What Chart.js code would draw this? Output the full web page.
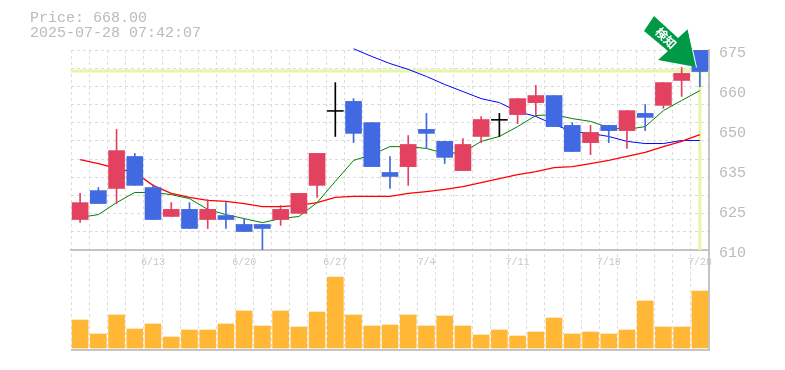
<!DOCTYPE html>
<html>
<head>
<meta charset="utf-8">
<style>
html, body { margin: 0; padding: 0; background: #fff; }
#wrap { position: relative; width: 785px; height: 370px; }
</style>
<script src="https://cdn.jsdelivr.net/npm/chart.js@4"></script>
</head>
<body>
<div id="wrap"><canvas id="stockChart" width="785" height="370"></canvas></div>
<script>
const dates = ['6/9','6/10','6/11','6/12','6/13','6/16','6/17','6/18','6/19','6/20','6/23','6/24','6/25','6/26','6/27','6/30','7/1','7/2','7/3','7/4','7/7','7/8','7/9','7/10','7/11','7/14','7/15','7/16','7/17','7/18','7/22','7/23','7/24','7/25','7/28'];
const tickDates = ['6/13','6/20','6/27','7/4','7/11','7/18','7/28'];

const opens  = [619.9,629.3,630.0,640.4,630.3,620.9,623.2,619.9,621.2,618.3,618.3,619.9,621.9,631.0,655.2,658.3,651.4,635.2,637.1,649.2,645.3,635.8,646.9,652.3,654.0,657.9,660.2,650.5,644.9,650.5,648.8,654.4,657.0,665.1,675.0];
const closes = [625.4,625.1,642.3,631.0,619.9,623.2,617.0,623.2,619.9,616.0,617.0,623.2,628.4,641.4,655.2,647.9,637.1,633.9,644.3,647.9,640.1,644.3,652.4,652.3,659.2,660.2,650.1,642.0,648.2,648.8,655.3,653.1,664.4,667.4,668.0];
const highs  = [628.4,630.3,649.2,641.4,631.3,625.4,625.4,626.4,625.4,620.2,618.3,624.5,628.4,641.4,664.4,659.2,651.4,640.4,647.2,654.4,645.3,646.2,653.4,654.4,659.2,663.5,660.2,651.4,650.5,650.5,655.3,657.3,664.4,669.3,675.0];
const lows   = [619.0,625.1,625.1,631.0,619.9,620.9,617.0,617.0,617.0,616.0,610.0,618.0,621.9,627.1,646.9,644.9,637.1,630.0,631.0,643.0,638.1,635.8,644.9,646.9,651.1,654.0,650.1,642.0,641.0,644.9,643.0,648.8,656.0,659.9,663.1];

const maShort  = [620.6,621.5,625.4,628.7,628.7,628.0,626.7,623.2,621.5,620.2,618.9,620.2,620.9,625.4,632.3,639.1,641.0,643.6,643.6,643.0,641.4,641.7,645.3,646.9,650.1,653.7,654.0,652.7,651.8,649.8,649.2,650.1,655.3,658.6,661.8];
const maMiddle = [639.4,638.1,636.5,635.2,631.0,628.4,627.1,626.1,625.8,625.1,624.1,624.1,624.5,625.4,627.1,627.4,627.4,627.4,628.4,629.0,629.7,630.6,631.9,633.2,634.5,635.5,636.8,637.1,638.1,639.1,640.4,641.7,643.6,645.3,647.5];
const maLong   = [null,null,null,null,null,null,null,null,null,null,null,null,null,null,null,675.4,672.9,670.6,668.7,666.4,663.8,661.5,659.2,657.9,655.0,653.4,650.8,648.5,647.9,646.9,645.3,644.6,644.6,645.6,645.6];

const volumes = [28,14,33,19,24,11,18,18,24,37,22,37,21,36,71,33,22,23,33,22,32,22,13,18,12,16,30,14,16,14,18,47,21,21,57];

const priceTicks = [675,662,649,636,623,610];
const priceTickLabels = ['675','660','650','635','625','610'];
const gridDivisions = 11;
const lastPrice = 668;
const priceText = 'Price: 668.00';
const timeText = '2025-07-28 07:42:07';
const badgeText = '検知';

const UP = '#e2415f', DOWN = '#4169e1', DOJI = '#000000';
const candleColors = opens.map((o, i) => closes[i] > o ? UP : closes[i] < o ? DOWN : DOJI);
const GRID = '#dcdcdc', FRAME = '#c4c4c4', MONO = '"Liberation Mono", monospace';

// 현재값 라인, 헤더, 화살표
const overlay = {
    id: 'overlay',
    beforeDatasetsDraw(chart) {
        const { ctx, chartArea, scales } = chart;
        const y = scales.y.getPixelForValue(lastPrice) - 0.5;
        const x = scales.x.getPixelForValue(dates.length - 1);
        ctx.save();
        ctx.strokeStyle = '#e5f6a8';
        ctx.lineWidth = 3;
        ctx.beginPath();
        ctx.moveTo(chartArea.left, y);
        ctx.lineTo(chartArea.right, y);
        ctx.moveTo(x, y);
        ctx.lineTo(x, scales.y.bottom);
        ctx.stroke();
        ctx.restore();
    },
    afterDraw(chart) {
        const { ctx } = chart;
        ctx.save();
        ctx.fillStyle = '#bbbbbb';
        ctx.font = '15px ' + MONO;
        ctx.textBaseline = 'middle';
        ctx.fillText(priceText, 30, 18);
        ctx.fillText(timeText, 30, 33);

        // 화살표
        ctx.fillStyle = '#009a47';
        ctx.strokeStyle = '#ffffff';
        ctx.lineWidth = 1;
        ctx.beginPath();
        ctx.moveTo(696, 67);
        ctx.lineTo(658, 60);
        ctx.lineTo(668, 51);
        ctx.lineTo(644, 31);
        ctx.lineTo(654, 16);
        ctx.lineTo(678, 38);
        ctx.lineTo(688, 29);
        ctx.closePath();
        ctx.fill();
        ctx.beginPath();
        ctx.moveTo(688, 29);
        ctx.lineTo(696.5, 67.5);
        ctx.stroke();

        ctx.translate(666, 38);
        ctx.rotate(Math.PI / 4);
        ctx.fillStyle = '#ffffff';
        ctx.font = 'bold 12px "Noto Sans CJK JP"';
        ctx.textAlign = 'center';
        ctx.textBaseline = 'middle';
        ctx.fillText(badgeText, 0, 0);
        ctx.restore();
    }
};

new Chart(document.getElementById('stockChart'), {
    type: 'bar',
    plugins: [overlay],
    data: {
        labels: dates,
        datasets: [
            // 캔들 몸통
            { data: opens.map((o, i) => o === closes[i] ? [o - 0.15, o + 0.15] : [o, closes[i]]), backgroundColor: candleColors, barThickness: 16, yAxisID: 'y', order: 1, grouped: false },
            // 꼬리
            { data: lows.map((l, i) => [l, highs[i]]), backgroundColor: candleColors, barThickness: 1, yAxisID: 'y', order: 2, grouped: false },
            { type: 'line', data: maShort, borderColor: '#008000', borderWidth: 1, pointRadius: 0, yAxisID: 'y', order: 3, clip: false },
            { type: 'line', data: maMiddle, borderColor: '#ff0000', borderWidth: 1.3, pointRadius: 0, yAxisID: 'y', order: 4, clip: false },
            { type: 'line', data: maLong, borderColor: '#0000ff', borderWidth: 1, pointRadius: 0, yAxisID: 'y', order: 5, clip: false },
            // 거래량
            { data: volumes, backgroundColor: '#ffb735', barThickness: 16, yAxisID: 'yVolume', order: 6, grouped: false }
        ]
    },
    options: {
        responsive: false,
        animation: false,
        devicePixelRatio: 1,
        layout: { padding: { left: 71, top: 50, bottom: 20, right: 0 } },
        plugins: { legend: { display: false }, tooltip: { enabled: false } },
        scales: {
            x: {
                position: { y: 610 },
                grid: { color: GRID, drawTicks: false, offset: true },
                border: { display: true, color: FRAME, width: 2, dash: [3, 3] },
                ticks: {
                    autoSkip: false,
                    maxRotation: 0,
                    padding: 6,
                    color: '#c8c8c8',
                    font: { family: MONO, size: 10 },
                    callback(value) {
                        const label = this.getLabelForValue(value);
                        return tickDates.includes(label) ? label : '';
                    }
                }
            },
            y: {
                position: 'right',
                stack: 'panes',
                stackWeight: 2,
                min: 610,
                max: 675,
                afterFit(scale) { scale.width = 76; },
                afterBuildTicks(scale) { scale.ticks = priceTicks.map(v => ({ value: v })); },
                grid: { display: true, drawOnChartArea: false, drawTicks: false },
                border: { color: FRAME, width: 2 },
                ticks: {
                    autoSkip: false,
                    padding: 10,
                    labelOffset: 3,
                    color: '#bbbbbb',
                    font: { family: MONO, size: 15 },
                    callback(value) { return priceTickLabels[priceTicks.indexOf(value)]; }
                }
            },
            // 가격 영역 격자선 전용 축 (전체 높이를 쓰므로 min을 아래로 늘림)
            yGrid: {
                position: 'left',
                min: 610 - (675 - 610) / 2,
                max: 675,
                afterFit(scale) { scale.width = 0; },
                afterBuildTicks(scale) {
                    scale.ticks = [];
                    for (let i = 0; i < gridDivisions; i++) {
                        scale.ticks.push({ value: 675 - i * (675 - 610) / gridDivisions });
                    }
                },
                grid: { color: GRID, drawTicks: false },
                border: { display: false, dash: [3, 3] },
                ticks: { display: false }
            },
            yVolume: {
                position: 'right',
                stack: 'panes',
                stackWeight: 1,
                min: -2,
                max: 98,
                afterFit(scale) { scale.width = 76; },
                afterBuildTicks(scale) { scale.ticks = [{ value: -2 }]; },
                grid: { color: FRAME, lineWidth: 2, drawTicks: false },
                border: { color: FRAME, width: 2 },
                ticks: { display: false }
            }
        }
    }
});
</script>
</body>
</html>
